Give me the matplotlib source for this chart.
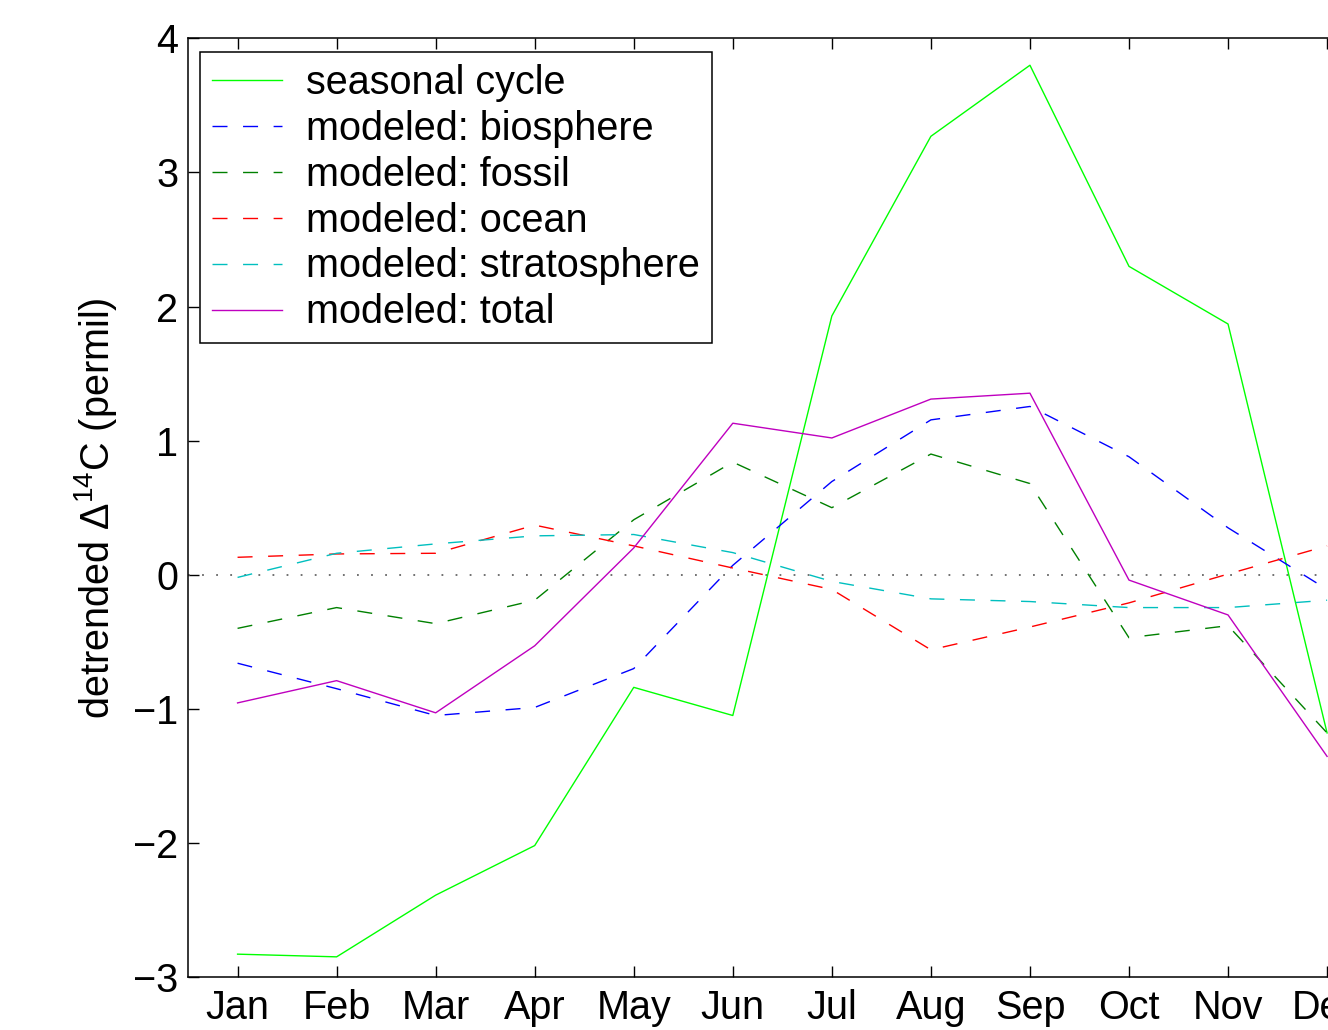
import matplotlib
matplotlib.use("Agg")
import matplotlib.pyplot as plt

plt.rcParams['font.family'] = ['Liberation Sans', 'DejaVu Sans']
plt.rcParams['mathtext.fontset'] = 'custom'
plt.rcParams['mathtext.rm'] = 'Liberation Sans'
plt.rcParams['mathtext.default'] = 'regular'

# monthly detrended D14C (permil)
months = ['Jan', 'Feb', 'Mar', 'Apr', 'May', 'Jun', 'Jul', 'Aug', 'Sep', 'Oct', 'Nov', 'Dec']
seasonal = [-2.83, -2.85, -2.39, -2.02, -0.84, -1.05, 1.93, 3.27, 3.80, 2.30, 1.87, -1.18]
biosphere = [-0.66, -0.85, -1.05, -0.99, -0.70, 0.07, 0.695, 1.155, 1.255, 0.88, 0.35, -0.11]
fossil = [-0.40, -0.245, -0.365, -0.19, 0.41, 0.84, 0.50, 0.90, 0.68, -0.47, -0.38, -1.18]
ocean = [0.13, 0.155, 0.16, 0.37, 0.215, 0.05, -0.11, -0.56, -0.39, -0.21, 0.005, 0.215]
strat = [-0.02, 0.16, 0.23, 0.29, 0.30, 0.165, -0.05, -0.18, -0.20, -0.245, -0.245, -0.19]
total = [-0.956, -0.79, -1.03, -0.53, 0.20, 1.13, 1.02, 1.31, 1.354, -0.04, -0.30, -1.355]

x = list(range(1, 13))
dash = (10.8, 11.2)
fs = 28.5

fig = plt.figure(figsize=(13.28, 10.30), dpi=100)
# axes run past the right edge of the figure, like the cropped original
ax = fig.add_axes([0.1416, 0.0515, 0.895, 0.9112])

ax.axhline(0, color='0.4', lw=1.3, dashes=(1.0, 6.8))
ax.plot(x, seasonal, color='#00ff00', lw=1.0, label='seasonal cycle')
ax.plot(x, biosphere, color='b', lw=1.0, dashes=dash, label='modeled: biosphere')
ax.plot(x, fossil, color=(0, 0.5, 0), lw=1.0, dashes=dash, label='modeled: fossil')
ax.plot(x, ocean, color='r', lw=1.0, dashes=dash, label='modeled: ocean')
ax.plot(x, strat, color=(0, 0.75, 0.75), lw=1.0, dashes=dash, label='modeled: stratosphere')
ax.plot(x, total, color=(0.75, 0, 0.75), lw=1.0, label='modeled: total')

ax.set_xlim(0.5, 12.5)
ax.set_ylim(-3, 4)
ax.set_xticks(x)
ax.set_xticklabels(months)
ax.set_yticks(range(-3, 5))
ax.tick_params(direction='in', length=8, width=1.0, labelsize=fs, top=True, right=True)
ax.tick_params(axis='x', pad=9)
ax.tick_params(axis='y', pad=7)
for s in ax.spines.values():
    s.set_linewidth(1.1)

ax.set_ylabel(r'detrended $\Delta^{14}$C (permil)', fontsize=fs, labelpad=10)

leg = ax.legend(loc='upper left', bbox_to_anchor=(0.0101, 0.9856), borderaxespad=0,
                fontsize=fs, handlelength=1.78, handletextpad=0.6, labelspacing=0.2,
                borderpad=0.3, fancybox=False, framealpha=1, edgecolor='k')
leg.get_frame().set_linewidth(1.1)

fig.savefig('out.png', dpi=100)
